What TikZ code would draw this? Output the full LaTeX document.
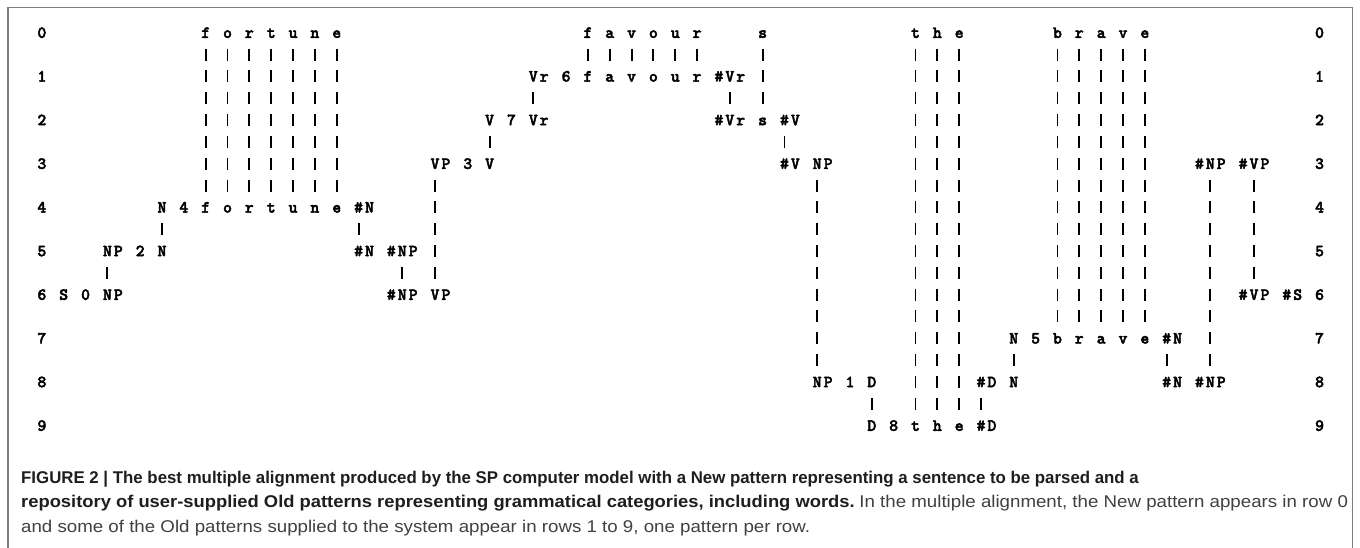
\documentclass[tikz,border=0pt]{standalone}
\usepackage{fontspec}
\usepackage{graphicx}
\newfontfamily\capfont{Liberation Sans}
\newfontfamily\alnmono{lmmonolt10-bold.otf}[FakeBold=2.5]
\newcommand{\alnfont}{\alnmono\fontsize{17}{17}\selectfont}
\definecolor{framegrey}{RGB}{125,125,125}
\definecolor{captext}{RGB}{65,65,65}
\definecolor{capbold}{RGB}{30,30,30}
% one fixed-width cell per character of a symbol
\makeatletter
\newcommand{\alnchars}[1]{\edef\aln@list{#1}\expandafter\aln@do\aln@list\@nil}
\def\aln@do#1{\ifx#1\@nil\else\makebox[10.92pt]{#1}\expandafter\aln@do\fi}
\makeatother
\tikzset{
  sym/.style={font=\alnfont, inner sep=0pt, anchor=base west, text height=10.4pt, text depth=0pt},
  bar/.style={line width=1.9pt, dash pattern=on 12pt off 9.83pt, shorten <=15.83pt, shorten >=15.83pt},
  frame/.style={draw=framegrey, line width=1.2pt},
  capline/.style={font=\capfont\fontsize{17}{17}\selectfont, inner sep=0pt, anchor=base west, text=captext},
}
\begin{document}
\begin{tikzpicture}
  \fill[white] (0pt,0pt) rectangle (1360pt,-548pt);
  \useasboundingbox (0pt,0pt) rectangle (1360pt,-548pt);
  \draw[frame] (8pt,-548pt) -- (8pt,-7.5pt) -- (1352.5pt,-7.5pt) -- (1352.5pt,-548pt);
  \begin{scope}[x=10.92pt,y=-21.83pt,shift={(36.24pt,-37.9pt)}]
    % row numbers, both sides
    \foreach \r in {0,...,9}{
      \node[sym] (lrow\r) at (0,2*\r) {\alnchars{\r}};
      \node[sym] (rrow\r) at (117,2*\r) {\alnchars{\r}};
    }
    % row 0: the New pattern
    \foreach \c/\t in {15/f,17/o,19/r,21/t,23/u,25/n,27/e,50/f,52/a,54/v,56/o,58/u,60/r,66/s,80/t,82/h,84/e,93/b,95/r,97/a,99/v,101/e}
      \node[sym] (t0-\c) at (\c,0) {\alnchars{\t}};
    % rows 1 to 9: Old patterns
    \foreach \c/\t in {45/Vr,48/6,50/f,52/a,54/v,56/o,58/u,60/r,62/\#Vr}
      \node[sym] (t1-\c) at (\c,2) {\alnchars{\t}};
    \foreach \c/\t in {41/V,43/7,45/Vr,62/\#Vr,66/s,68/\#V}
      \node[sym] (t2-\c) at (\c,4) {\alnchars{\t}};
    \foreach \c/\t in {36/VP,39/3,41/V,68/\#V,71/NP,106/\#NP,110/\#VP}
      \node[sym] (t3-\c) at (\c,6) {\alnchars{\t}};
    \foreach \c/\t in {11/N,13/4,15/f,17/o,19/r,21/t,23/u,25/n,27/e,29/\#N}
      \node[sym] (t4-\c) at (\c,8) {\alnchars{\t}};
    \foreach \c/\t in {6/NP,9/2,11/N,29/\#N,32/\#NP}
      \node[sym] (t5-\c) at (\c,10) {\alnchars{\t}};
    \foreach \c/\t in {2/S,4/0,6/NP,32/\#NP,36/VP,110/\#VP,114/\#S}
      \node[sym] (t6-\c) at (\c,12) {\alnchars{\t}};
    \foreach \c/\t in {89/N,91/5,93/b,95/r,97/a,99/v,101/e,103/\#N}
      \node[sym] (t7-\c) at (\c,14) {\alnchars{\t}};
    \foreach \c/\t in {71/NP,74/1,76/D,86/\#D,89/N,103/\#N,106/\#NP}
      \node[sym] (t8-\c) at (\c,16) {\alnchars{\t}};
    \foreach \c/\t in {76/D,78/8,80/t,82/h,84/e,86/\#D}
      \node[sym] (t9-\c) at (\c,18) {\alnchars{\t}};
    % alignment of New symbols with Old symbols
    \foreach \c in {15,17,...,27} \draw[bar] (t0-\c.center) -- (t4-\c.center);
    \foreach \c in {50,52,...,60} \draw[bar] (t0-\c.center) -- (t1-\c.center);
    \draw[bar] (t0-66.center) -- (t2-66.center);
    \foreach \c in {80,82,84} \draw[bar] (t0-\c.center) -- (t9-\c.center);
    \foreach \c in {93,95,...,101} \draw[bar] (t0-\c.center) -- (t7-\c.center);
    % links between Old patterns
    \foreach \a/\b in {t1-62/t2-62,t2-41/t3-41,t3-106/t8-106,t3-110/t6-110,t4-11/t5-11,t5-32/t6-32,t7-89/t8-89,t8-76/t9-76}
      \draw[bar] (\a.center) -- (\b.center);
    \foreach \a/\b in {t1-45/t2-45,t2-68/t3-68,t3-36/t6-36,t3-71/t8-71,t4-29/t5-29,t5-6/t6-6,t7-103/t8-103,t8-86/t9-86}
      \draw[bar] ([xshift=-5.46pt]\a.center) -- ([xshift=-5.46pt]\b.center);
  \end{scope}
  % caption
  \node[capline] (cap1) at (21pt,-483pt) {\scalebox{0.99}[1]{\color{capbold}\bfseries FIGURE 2 | The best multiple alignment produced by the SP computer model with a New pattern representing a sentence to be parsed and a}};
  \node[capline] (cap2) at (21pt,-507.5pt) {\scalebox{1.08}[1]{\color{capbold}\bfseries repository of user-supplied Old patterns representing grammatical categories, including words.} \scalebox{1.1}[1]{In the multiple alignment, the New pattern appears in row 0}};
  \node[capline] (cap3) at (21pt,-532pt) {\scalebox{1.1}[1]{and some of the Old patterns supplied to the system appear in rows 1 to 9, one pattern per row.}};
\end{tikzpicture}
\end{document}
